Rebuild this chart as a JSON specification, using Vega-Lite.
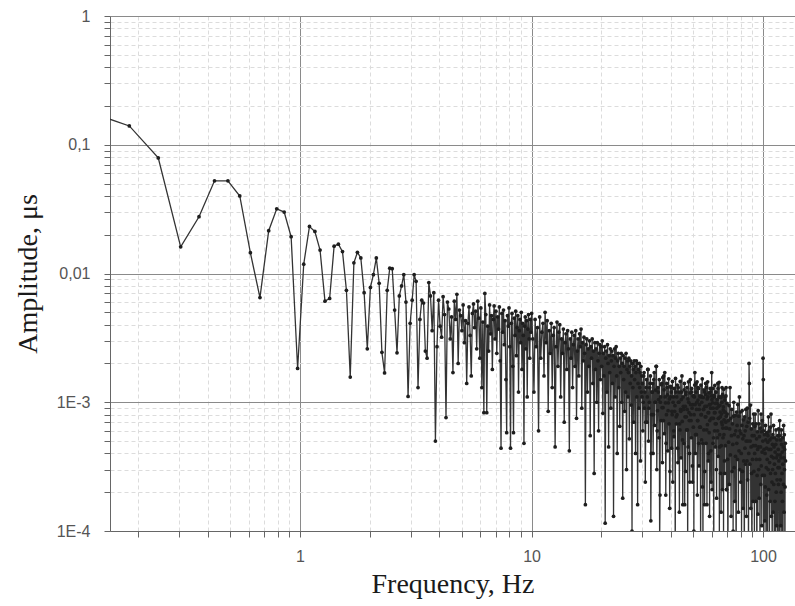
{
"$schema": "https://vega.github.io/schema/vega-lite/v6.json",
"width": 685, "height": 515,
"autosize": {"type": "none"},
"padding": {"left": 110, "top": 16, "right": 0, "bottom": 75},
"background": "white",
"config": {"view": {"stroke": null}},
"data": {"values": [
{"f":0.122,"a":0.18},{"f":0.183,"a":0.14},{"f":0.244,"a":0.079},{"f":0.305,"a":0.0161},{"f":0.366,"a":0.0276},{"f":0.427,"a":0.0525},{"f":0.488,"a":0.0525},{"f":0.549,"a":0.04},{"f":0.61,"a":0.0145},{"f":0.671,"a":0.0065},
{"f":0.732,"a":0.0215},{"f":0.793,"a":0.0318},{"f":0.854,"a":0.03},{"f":0.915,"a":0.0193},{"f":0.976,"a":0.00183},{"f":1.037,"a":0.0118},{"f":1.098,"a":0.0232},{"f":1.159,"a":0.0212},{"f":1.22,"a":0.0152},{"f":1.281,"a":0.0061},
{"f":1.342,"a":0.0064},{"f":1.403,"a":0.0163},{"f":1.464,"a":0.0169},{"f":1.525,"a":0.0148},{"f":1.586,"a":0.0074},{"f":1.647,"a":0.00157},{"f":1.708,"a":0.0121},{"f":1.769,"a":0.0146},{"f":1.83,"a":0.0132},{"f":1.891,"a":0.0071},
{"f":1.952,"a":0.0026},{"f":2.013,"a":0.0078},{"f":2.074,"a":0.0098},{"f":2.135,"a":0.0132},{"f":2.196,"a":0.0084},{"f":2.257,"a":0.00244},{"f":2.318,"a":0.00169},{"f":2.379,"a":0.0074},{"f":2.44,"a":0.011},{"f":2.501,"a":0.0109},
{"f":2.562,"a":0.0052},{"f":2.623,"a":0.00242},{"f":2.684,"a":0.0067},{"f":2.745,"a":0.008},{"f":2.806,"a":0.0098},{"f":2.867,"a":0.006},{"f":2.928,"a":0.00111},{"f":2.989,"a":0.0041},{"f":3.05,"a":0.0062},{"f":3.111,"a":0.0098},
{"f":3.172,"a":0.0087},{"f":3.233,"a":0.0013},{"f":3.294,"a":0.0044},{"f":3.355,"a":0.0062},{"f":3.416,"a":0.0059},{"f":3.477,"a":0.0025},{"f":3.538,"a":0.0022},{"f":3.599,"a":0.0085},{"f":3.66,"a":0.0067},{"f":3.721,"a":0.0036},
{"f":3.782,"a":0.0071},{"f":3.843,"a":0.0005},{"f":3.904,"a":0.0027},{"f":3.965,"a":0.0062},{"f":4.026,"a":0.0039},{"f":4.087,"a":0.0032},{"f":4.148,"a":0.0066},{"f":4.209,"a":0.0048},{"f":4.27,"a":0.00076},{"f":4.331,"a":0.006},
{"f":4.392,"a":0.0053},{"f":4.453,"a":0.0031},{"f":4.514,"a":0.0046},{"f":4.575,"a":0.0017},{"f":4.636,"a":0.0061},{"f":4.697,"a":0.0044},{"f":4.758,"a":0.0069},{"f":4.819,"a":0.002},{"f":4.88,"a":0.0052},{"f":4.941,"a":0.0047},
{"f":5.002,"a":0.0036},{"f":5.063,"a":0.0057},{"f":5.124,"a":0.0029},{"f":5.185,"a":0.0043},{"f":5.246,"a":0.0014},{"f":5.307,"a":0.0041},{"f":5.368,"a":0.0055},{"f":5.429,"a":0.0033},{"f":5.49,"a":0.0016},{"f":5.551,"a":0.0049},
{"f":5.612,"a":0.0058},{"f":5.673,"a":0.0038},{"f":5.734,"a":0.0051},{"f":5.795,"a":0.0026},{"f":5.856,"a":0.0061},{"f":5.917,"a":0.0045},{"f":5.978,"a":0.0022},{"f":6.039,"a":0.0054},{"f":6.1,"a":0.0013},{"f":6.161,"a":0.0042},
{"f":6.222,"a":0.00083},{"f":6.283,"a":0.007},{"f":6.344,"a":0.0048},{"f":6.405,"a":0.00083},{"f":6.466,"a":0.0039},{"f":6.527,"a":0.0025},{"f":6.588,"a":0.0057},{"f":6.649,"a":0.0034},{"f":6.71,"a":0.0047},{"f":6.771,"a":0.0018},
{"f":6.832,"a":0.0044},{"f":6.893,"a":0.0056},{"f":6.954,"a":0.0031},{"f":7.015,"a":0.0051},{"f":7.076,"a":0.0024},{"f":7.137,"a":0.0046},{"f":7.198,"a":0.0037},{"f":7.259,"a":0.0055},{"f":7.32,"a":0.0021},{"f":7.381,"a":0.00044},
{"f":7.442,"a":0.0049},{"f":7.503,"a":0.0035},{"f":7.564,"a":0.0052},{"f":7.625,"a":0.0028},{"f":7.686,"a":0.0043},{"f":7.747,"a":0.0015},{"f":7.808,"a":0.00058},{"f":7.869,"a":0.0047},{"f":7.93,"a":0.0039},{"f":7.991,"a":0.0054},
{"f":8.052,"a":0.0027},{"f":8.113,"a":0.00044},{"f":8.174,"a":0.0041},{"f":8.235,"a":0.0049},{"f":8.296,"a":0.0019},{"f":8.357,"a":0.00058},{"f":8.418,"a":0.0045},{"f":8.479,"a":0.0033},{"f":8.54,"a":0.0051},{"f":8.601,"a":0.0023},
{"f":8.662,"a":0.0038},{"f":8.723,"a":0.0047},{"f":8.784,"a":0.0012},{"f":8.845,"a":0.0036},{"f":8.906,"a":0.0044},{"f":8.967,"a":0.0029},{"f":9.028,"a":0.005},{"f":9.089,"a":0.0018},{"f":9.15,"a":0.0041},{"f":9.211,"a":0.0033},
{"f":9.272,"a":0.00048},{"f":9.333,"a":0.0039},{"f":9.394,"a":0.0046},{"f":9.455,"a":0.0026},{"f":9.516,"a":0.0043},{"f":9.577,"a":0.0011},{"f":9.638,"a":0.0037},{"f":9.699,"a":0.0048},{"f":9.76,"a":0.0031},{"f":9.821,"a":0.0022},
{"f":9.882,"a":0.0044},{"f":9.943,"a":0.0035},{"f":10.004,"a":0.0049},
{"f":10.12,"a":0.0031},{"f":10.24,"a":0.0012},{"f":10.36,"a":0.0044},{"f":10.48,"a":0.0027},{"f":10.6,"a":0.0038},{"f":10.72,"a":0.0006},{"f":10.84,"a":0.0046},{"f":10.96,"a":0.0022},{"f":11.08,"a":0.0035},{"f":11.2,"a":0.0041},
{"f":11.32,"a":0.0016},{"f":11.44,"a":0.005},{"f":11.56,"a":0.0029},{"f":11.68,"a":0.0043},{"f":11.8,"a":0.00085},{"f":11.92,"a":0.0036},{"f":12.04,"a":0.0024},{"f":12.16,"a":0.0041},{"f":12.28,"a":0.0013},{"f":12.4,"a":0.0033},
{"f":12.52,"a":0.0038},{"f":12.64,"a":0.00045},{"f":12.76,"a":0.0027},{"f":12.88,"a":0.0042},{"f":13.0,"a":0.0019},{"f":13.12,"a":0.0035},{"f":13.24,"a":0.004},{"f":13.36,"a":0.0011},{"f":13.48,"a":0.0031},{"f":13.6,"a":0.0024},
{"f":13.72,"a":0.0037},{"f":13.84,"a":0.0007},{"f":13.96,"a":0.0029},{"f":14.08,"a":0.0034},{"f":14.2,"a":0.0018},{"f":14.32,"a":0.0036},{"f":14.44,"a":0.0026},{"f":14.56,"a":0.00042},{"f":14.68,"a":0.0031},{"f":14.8,"a":0.0022},
{"f":14.92,"a":0.0035},{"f":15.04,"a":0.0013},{"f":15.16,"a":0.0028},{"f":15.28,"a":0.0033},{"f":15.4,"a":0.0019},{"f":15.52,"a":0.0036},{"f":15.64,"a":0.00075},{"f":15.76,"a":0.0025},{"f":15.88,"a":0.0031},{"f":16.0,"a":0.0016},
{"f":16.12,"a":0.0034},{"f":16.24,"a":0.0027},{"f":16.36,"a":0.0037},{"f":16.48,"a":0.0009},{"f":16.6,"a":0.0029},{"f":16.72,"a":0.0021},{"f":16.84,"a":0.0032},{"f":16.96,"a":0.0024},{"f":17.08,"a":0.00016},{"f":17.2,"a":0.0028},
{"f":17.32,"a":0.0031},{"f":17.44,"a":0.0012},{"f":17.56,"a":0.0026},{"f":17.68,"a":0.0019},{"f":17.8,"a":0.003},{"f":17.92,"a":0.00055},{"f":18.04,"a":0.0027},{"f":18.16,"a":0.0022},{"f":18.28,"a":0.0031},{"f":18.4,"a":0.0014},
{"f":18.52,"a":0.0025},{"f":18.64,"a":0.00028},{"f":18.76,"a":0.0029},{"f":18.88,"a":0.0018},{"f":19.0,"a":0.0026},{"f":19.12,"a":0.001},{"f":19.24,"a":0.0029},{"f":19.36,"a":0.0021},{"f":19.48,"a":0.0006},{"f":19.6,"a":0.0024},
{"f":19.72,"a":0.0028},{"f":19.84,"a":0.0015},{"f":19.96,"a":0.0027},{"f":20.08,"a":0.0019},{"f":20.2,"a":0.003},{"f":20.32,"a":0.00082},{"f":20.44,"a":0.0024},{"f":20.56,"a":0.0016},{"f":20.68,"a":0.0027},{"f":20.8,"a":0.000115},
{"f":20.92,"a":0.0022},{"f":21.04,"a":0.0025},{"f":21.16,"a":0.0012},{"f":21.28,"a":0.0028},{"f":21.4,"a":0.002},{"f":21.52,"a":0.00045},{"f":21.64,"a":0.0023},{"f":21.76,"a":0.0017},{"f":21.88,"a":0.0026},{"f":22.0,"a":0.0009},
{"f":22.12,"a":0.0021},{"f":22.24,"a":0.0025},{"f":22.36,"a":0.0014},{"f":22.48,"a":0.0023},{"f":22.6,"a":0.00013},{"f":22.72,"a":0.0019},{"f":22.84,"a":0.0026},{"f":22.96,"a":0.0011},{"f":23.08,"a":0.0022},{"f":23.2,"a":0.0027},
{"f":23.32,"a":0.0016},{"f":23.44,"a":0.0004},{"f":23.56,"a":0.0021},{"f":23.68,"a":0.0024},{"f":23.8,"a":0.0013},{"f":23.92,"a":0.0019},{"f":24.04,"a":0.00065},{"f":24.16,"a":0.0022},{"f":24.28,"a":0.0017},{"f":24.4,"a":0.0024},
{"f":24.52,"a":0.001},{"f":24.64,"a":0.002},{"f":24.76,"a":0.00018},{"f":24.88,"a":0.0023},{"f":25.0,"a":0.0015},{"f":25.12,"a":0.0019},{"f":25.24,"a":0.00085},{"f":25.36,"a":0.0022},{"f":25.48,"a":0.0012},{"f":25.6,"a":0.0024},
{"f":25.72,"a":0.0003},{"f":25.84,"a":0.0018},{"f":25.96,"a":0.0021},{"f":26.08,"a":0.0011},{"f":26.2,"a":0.0017},{"f":26.32,"a":0.0022},{"f":26.44,"a":0.00052},{"f":26.56,"a":0.0019},{"f":26.68,"a":0.0014},{"f":26.8,"a":0.0021},
{"f":26.92,"a":0.00095},{"f":27.04,"a":0.0016},{"f":27.16,"a":0.0001},{"f":27.28,"a":0.002},{"f":27.4,"a":0.0013},{"f":27.52,"a":0.0018},{"f":27.64,"a":0.0007},{"f":27.76,"a":0.0021},{"f":27.88,"a":0.0015},{"f":28.0,"a":0.0019},
{"f":28.12,"a":0.0004},{"f":28.24,"a":0.0017},{"f":28.36,"a":0.0021},{"f":28.48,"a":0.0011},{"f":28.6,"a":0.002},{"f":28.72,"a":0.00016},{"f":28.84,"a":0.0014},{"f":28.96,"a":0.0018},{"f":29.08,"a":0.0009},{"f":29.2,"a":0.002},
{"f":29.32,"a":0.0013},{"f":29.44,"a":0.0017},{"f":29.56,"a":0.00035},{"f":29.68,"a":0.0019},{"f":29.8,"a":0.0012},{"f":29.92,"a":0.0016},
{"f":30.0,"a":0.0011},{"f":30.25,"a":0.0006},{"f":30.5,"a":0.0016},{"f":30.75,"a":0.0009},{"f":31.0,"a":0.00024},{"f":31.25,"a":0.0013},{"f":31.5,"a":0.0007},{"f":31.75,"a":0.0018},{"f":32.0,"a":0.0005},{"f":32.25,"a":0.001},
{"f":32.5,"a":0.0014},{"f":32.75,"a":0.00012},{"f":33.0,"a":0.0008},{"f":33.25,"a":0.0012},{"f":33.5,"a":0.0004},{"f":33.75,"a":0.0015},{"f":34.0,"a":0.00066},{"f":34.25,"a":0.001},{"f":34.5,"a":0.0019},{"f":34.75,"a":0.0003},
{"f":35.0,"a":0.00086},{"f":35.25,"a":0.0012},{"f":35.5,"a":0.00053},{"f":35.75,"a":0.000076},{"f":36.0,"a":0.001},{"f":36.25,"a":0.00072},{"f":36.5,"a":0.0014},{"f":36.75,"a":0.00034},{"f":37.0,"a":0.00091},{"f":37.25,"a":0.0016},
{"f":37.5,"a":0.00057},{"f":37.75,"a":0.0011},{"f":38.0,"a":0.00019},{"f":38.25,"a":0.0008},{"f":38.5,"a":0.0013},{"f":38.75,"a":0.00042},{"f":39.0,"a":0.00099},{"f":39.25,"a":0.00068},{"f":39.5,"a":0.00015},{"f":39.75,"a":0.0011},
{"f":40.0,"a":0.0013},{"f":40.25,"a":0.00044},{"f":40.5,"a":0.0008},{"f":40.75,"a":0.00024},{"f":41.0,"a":0.0011},{"f":41.25,"a":0.00054},{"f":41.5,"a":0.00085},{"f":41.75,"a":0.000051},{"f":42.0,"a":0.0012},{"f":42.25,"a":0.00068},
{"f":42.5,"a":0.0008},{"f":42.75,"a":0.00044},{"f":43.0,"a":0.0013},{"f":43.25,"a":0.001},{"f":43.5,"a":0.00014},{"f":43.75,"a":0.00061},{"f":44.0,"a":0.00088},{"f":44.25,"a":0.00037},{"f":44.5,"a":0.0012},{"f":44.75,"a":0.00071},
{"f":45.0,"a":0.00016},{"f":45.25,"a":0.00093},{"f":45.5,"a":0.00048},{"f":45.75,"a":0.0014},{"f":46.0,"a":0.00077},{"f":46.25,"a":0.00029},{"f":46.5,"a":0.0012},{"f":46.75,"a":0.00061},{"f":47.0,"a":0.00088},{"f":47.25,"a":0.000064},
{"f":47.5,"a":0.00045},{"f":47.75,"a":0.001},{"f":48.0,"a":0.00072},{"f":48.25,"a":0.00024},{"f":48.5,"a":0.0015},{"f":48.75,"a":0.0008},{"f":49.0,"a":0.00053},{"f":49.25,"a":0.0012},{"f":49.5,"a":0.00032},{"f":49.75,"a":0.00096},
{"f":50.0,"a":0.00064},{"f":50.25,"a":0.0001},{"f":50.5,"a":0.0011},{"f":50.75,"a":0.0017},{"f":51.0,"a":0.0004},{"f":51.25,"a":0.0014},{"f":51.5,"a":0.00056},{"f":51.75,"a":0.001},{"f":52.0,"a":0.00019},{"f":52.25,"a":0.00072},
{"f":52.5,"a":0.0013},{"f":52.75,"a":0.00048},{"f":53.0,"a":0.00088},{"f":53.25,"a":0.00064},{"f":53.5,"a":0.0011},{"f":53.75,"a":0.000048},{"f":54.0,"a":0.0008},{"f":54.25,"a":0.00051},{"f":54.5,"a":0.0011},{"f":54.75,"a":0.00022},
{"f":55.0,"a":0.000064},{"f":55.25,"a":0.00088},{"f":55.5,"a":0.00061},{"f":55.75,"a":0.0012},{"f":56.0,"a":0.00029},{"f":56.25,"a":0.00077},{"f":56.5,"a":0.0014},{"f":56.75,"a":0.00048},{"f":57.0,"a":0.00093},{"f":57.25,"a":0.00016},
{"f":57.5,"a":0.00067},{"f":57.75,"a":0.0011},{"f":58.0,"a":0.00035},{"f":58.25,"a":0.00083},{"f":58.5,"a":0.00058},{"f":58.75,"a":0.00013},{"f":59.0,"a":0.00096},{"f":59.25,"a":0.0012},{"f":59.5,"a":0.00042},{"f":59.75,"a":0.00075},
{"f":60.0,"a":0.0017},{"f":60.25,"a":0.00021},{"f":60.5,"a":0.00099},{"f":60.75,"a":0.00048},{"f":61.0,"a":0.00075},{"f":61.25,"a":0.000045},{"f":61.5,"a":0.0011},{"f":61.75,"a":0.0006},{"f":62.0,"a":0.00083},{"f":62.25,"a":0.00045},
{"f":62.5,"a":0.0012},{"f":62.75,"a":0.00068},{"f":63.0,"a":0.00018},{"f":63.25,"a":0.00098},{"f":63.5,"a":0.00053},{"f":63.75,"a":0.0014},{"f":64.0,"a":0.00038},{"f":64.25,"a":0.00075},{"f":64.5,"a":0.0011},{"f":64.75,"a":0.00009},
{"f":65.0,"a":0.00056},{"f":65.25,"a":0.00084},{"f":65.5,"a":0.00028},{"f":65.75,"a":0.0011},{"f":66.0,"a":0.00046},{"f":66.25,"a":0.0007},{"f":66.5,"a":0.0013},{"f":66.75,"a":0.00021},{"f":67.0,"a":0.00063},{"f":67.25,"a":0.00087},
{"f":67.5,"a":0.000084},{"f":67.75,"a":0.00056},{"f":68.0,"a":0.00084},{"f":68.25,"a":0.00028},{"f":68.5,"a":0.0011},{"f":68.75,"a":0.00046},{"f":69.0,"a":0.0007},{"f":69.25,"a":0.0013},{"f":69.5,"a":0.00021},{"f":69.75,"a":0.00063},
{"f":70.0,"a":0.00081},{"f":70.25,"a":0.00036},{"f":70.5,"a":0.000052},{"f":70.75,"a":0.00072},{"f":71.0,"a":0.00049},{"f":71.25,"a":0.00094},{"f":71.5,"a":0.00023},{"f":71.75,"a":0.00062},{"f":72.0,"a":0.0013},{"f":72.25,"a":0.00039},
{"f":72.5,"a":0.00075},{"f":72.75,"a":0.00013},{"f":73.0,"a":0.00055},{"f":73.25,"a":0.00088},{"f":73.5,"a":0.00029},{"f":73.75,"a":0.00068},{"f":74.0,"a":0.00047},{"f":74.25,"a":0.0001},{"f":74.5,"a":0.00078},{"f":74.75,"a":0.001},
{"f":75.0,"a":0.00031},{"f":75.25,"a":0.00056},{"f":75.5,"a":0.00017},{"f":75.75,"a":0.00079},{"f":76.0,"a":0.00038},{"f":76.25,"a":0.0006},{"f":76.5,"a":0.000036},{"f":76.75,"a":0.00084},{"f":77.0,"a":0.00048},{"f":77.25,"a":0.00066},
{"f":77.5,"a":0.00036},{"f":77.75,"a":0.00096},{"f":78.0,"a":0.00054},{"f":78.25,"a":0.00014},{"f":78.5,"a":0.00078},{"f":78.75,"a":0.00042},{"f":79.0,"a":0.0011},{"f":79.25,"a":0.0003},{"f":79.5,"a":0.0006},{"f":79.75,"a":0.00084},
{"f":80.0,"a":0.00024},{"f":80.25,"a":0.00057},{"f":80.5,"a":0.0004},{"f":80.75,"a":0.000088},{"f":81.0,"a":0.00066},{"f":81.25,"a":0.00086},{"f":81.5,"a":0.00029},{"f":81.75,"a":0.00052},{"f":82.0,"a":0.00015},{"f":82.25,"a":0.00073},
{"f":82.5,"a":0.00035},{"f":82.75,"a":0.00055},{"f":83.0,"a":0.000033},{"f":83.25,"a":0.00077},{"f":83.5,"a":0.00044},{"f":83.75,"a":0.0006},{"f":84.0,"a":0.00033},{"f":84.25,"a":0.00088},{"f":84.5,"a":0.0005},{"f":84.75,"a":0.00013},
{"f":85.0,"a":0.00065},{"f":85.25,"a":0.00035},{"f":85.5,"a":0.0009},{"f":85.75,"a":0.00025},{"f":86.0,"a":0.0005},{"f":86.25,"a":0.0007},{"f":86.5,"a":0.00006},{"f":86.75,"a":0.0004},{"f":87.0,"a":0.002},{"f":87.25,"a":0.0014},
{"f":87.5,"a":0.00075},{"f":87.75,"a":0.00033},{"f":88.0,"a":0.0005},{"f":88.25,"a":0.00095},{"f":88.5,"a":0.00015},{"f":88.75,"a":0.00045},{"f":89.0,"a":0.00062},{"f":89.25,"a":0.00028},{"f":89.5,"a":0.00004},{"f":89.75,"a":0.00055},
{"f":90.0,"a":0.00036},{"f":90.25,"a":0.00068},{"f":90.5,"a":0.00017},{"f":90.75,"a":0.00046},{"f":91.0,"a":0.00081},{"f":91.25,"a":0.00029},{"f":91.5,"a":0.00055},{"f":91.75,"a":0.000095},{"f":92.0,"a":0.0004},{"f":92.25,"a":0.00065},
{"f":92.5,"a":0.00081},{"f":92.75,"a":0.00046},{"f":93.0,"a":0.00017},{"f":93.25,"a":0.00068},{"f":93.5,"a":0.00036},{"f":93.75,"a":0.00052},{"f":94.0,"a":0.000038},{"f":94.25,"a":0.00027},{"f":94.5,"a":0.00059},{"f":94.75,"a":0.00043},
{"f":95.0,"a":0.000135},{"f":95.25,"a":0.00086},{"f":95.5,"a":0.00045},{"f":95.75,"a":0.0003},{"f":96.0,"a":0.00068},{"f":96.25,"a":0.00018},{"f":96.5,"a":0.00054},{"f":96.75,"a":0.00036},{"f":97.0,"a":0.000054},{"f":97.25,"a":0.00063},
{"f":97.5,"a":0.00045},{"f":97.75,"a":0.00023},{"f":98.0,"a":0.00081},{"f":98.25,"a":0.00032},{"f":98.5,"a":0.00059},{"f":98.75,"a":0.00011},{"f":99.0,"a":0.00041},{"f":99.25,"a":0.00072},{"f":99.5,"a":0.00027},{"f":99.75,"a":0.0005},
{"f":100.0,"a":0.0022},{"f":100.25,"a":0.0015},{"f":100.5,"a":0.0006},{"f":100.75,"a":0.000026},{"f":101.0,"a":0.00043},{"f":101.25,"a":0.00027},{"f":101.5,"a":0.00056},{"f":101.75,"a":0.00012},{"f":102.0,"a":0.0004},{"f":102.25,"a":0.00022},
{"f":102.5,"a":0.00066},{"f":102.75,"a":0.00051},{"f":103.0,"a":0.000068},{"f":103.25,"a":0.00031},{"f":103.5,"a":0.00044},{"f":103.75,"a":0.00019},{"f":104.0,"a":0.00058},{"f":104.25,"a":0.00036},{"f":104.5,"a":0.000085},{"f":104.75,"a":0.00049},
{"f":105.0,"a":0.00055},{"f":105.25,"a":0.0003},{"f":105.5,"a":0.00077},{"f":105.75,"a":0.00021},{"f":106.0,"a":0.00043},{"f":106.25,"a":0.0006},{"f":106.5,"a":0.000051},{"f":106.75,"a":0.00034},{"f":107.0,"a":0.00051},{"f":107.25,"a":0.00017},
{"f":107.5,"a":0.00064},{"f":107.75,"a":0.00028},{"f":108.0,"a":0.00043},{"f":108.25,"a":0.00081},{"f":108.5,"a":0.00013},{"f":108.75,"a":0.00038},{"f":109.0,"a":0.00053},{"f":109.25,"a":0.00024},{"f":109.5,"a":0.000034},{"f":109.75,"a":0.00047},
{"f":110.0,"a":0.0003},{"f":110.25,"a":0.00056},{"f":110.5,"a":0.00014},{"f":110.75,"a":0.00037},{"f":111.0,"a":0.00066},{"f":111.25,"a":0.00023},{"f":111.5,"a":0.00045},{"f":111.75,"a":0.000078},{"f":112.0,"a":0.00033},{"f":112.25,"a":0.00053},
{"f":112.5,"a":0.00017},{"f":112.75,"a":0.00041},{"f":113.0,"a":0.00028},{"f":113.25,"a":0.000062},{"f":113.5,"a":0.00047},{"f":113.75,"a":0.00061},{"f":114.0,"a":0.0002},{"f":114.25,"a":0.00037},{"f":114.5,"a":0.00011},{"f":114.75,"a":0.00051},
{"f":115.0,"a":0.00025},{"f":115.25,"a":0.00039},{"f":115.5,"a":0.000023},{"f":115.75,"a":0.00055},{"f":116.0,"a":0.00031},{"f":116.25,"a":0.00043},{"f":116.5,"a":0.00023},{"f":116.75,"a":0.00062},{"f":117.0,"a":0.00035},{"f":117.25,"a":0.000094},
{"f":117.5,"a":0.00031},{"f":117.75,"a":0.00055},{"f":118.0,"a":0.00072},{"f":118.25,"a":0.000023},{"f":118.5,"a":0.00039},{"f":118.75,"a":0.00025},{"f":119.0,"a":0.00051},{"f":119.25,"a":0.00011},{"f":119.5,"a":0.00037},{"f":119.75,"a":0.0002},
{"f":120.0,"a":0.00061},{"f":120.25,"a":0.00047},{"f":120.5,"a":0.000062},{"f":120.75,"a":0.00028},{"f":121.0,"a":0.00041},{"f":121.25,"a":0.00017},{"f":121.5,"a":0.00053},{"f":121.75,"a":0.00033},{"f":122.0,"a":0.000078},{"f":122.25,"a":0.00045},
{"f":122.5,"a":0.00023},{"f":122.75,"a":0.00066},{"f":123.0,"a":0.00037},{"f":123.25,"a":0.00014},{"f":123.5,"a":0.00056},{"f":123.75,"a":0.0003},{"f":124.0,"a":0.00043},{"f":124.25,"a":0.000031},{"f":124.5,"a":0.00022},{"f":124.75,"a":0.00048},
{"f":125.0,"a":0.00035},
{"f":30.125,"a":0.0014},{"f":30.375,"a":0.001},{"f":30.625,"a":0.0017},{"f":30.875,"a":0.0012},{"f":31.125,"a":0.0007},{"f":31.375,"a":0.0015},{"f":31.625,"a":0.0011},{"f":31.875,"a":0.0018},{"f":32.125,"a":0.0009},{"f":32.375,"a":0.0013},
{"f":32.625,"a":0.0016},{"f":32.875,"a":0.0004},{"f":33.125,"a":0.0012},{"f":33.375,"a":0.0014},{"f":33.625,"a":0.0008},{"f":33.875,"a":0.0017},{"f":34.125,"a":0.001},{"f":34.375,"a":0.00124},{"f":34.625,"a":0.0019},{"f":34.875,"a":0.0006},
{"f":35.125,"a":0.0013},{"f":35.375,"a":0.00105},{"f":35.625,"a":0.0015},{"f":35.875,"a":0.00019},{"f":36.125,"a":0.0011},{"f":36.375,"a":0.00137},{"f":36.625,"a":0.00091},{"f":36.875,"a":0.00156},{"f":37.125,"a":0.00072},{"f":37.375,"a":0.00125},
{"f":37.625,"a":0.0017},{"f":37.875,"a":0.00099},{"f":38.125,"a":0.00048},{"f":38.375,"a":0.0014},{"f":38.625,"a":0.00114},{"f":38.875,"a":0.00086},{"f":39.125,"a":0.00152},{"f":39.375,"a":0.00106},{"f":39.625,"a":0.00029},{"f":39.875,"a":0.00133},
{"f":40.125,"a":0.0012},{"f":40.375,"a":0.00085},{"f":40.625,"a":0.00145},{"f":40.875,"a":0.001},{"f":41.125,"a":0.0006},{"f":41.375,"a":0.00128},{"f":41.625,"a":0.00094},{"f":41.875,"a":0.00153},{"f":42.125,"a":0.00077},{"f":42.375,"a":0.0011},
{"f":42.625,"a":0.00136},{"f":42.875,"a":0.00034},{"f":43.125,"a":0.001},{"f":43.375,"a":0.0012},{"f":43.625,"a":0.00068},{"f":43.875,"a":0.00145},{"f":44.125,"a":0.00085},{"f":44.375,"a":0.00105},{"f":44.625,"a":0.0016},{"f":44.875,"a":0.00051},
{"f":45.125,"a":0.0011},{"f":45.375,"a":0.00088},{"f":45.625,"a":0.00125},{"f":45.875,"a":0.00016},{"f":46.125,"a":0.00093},{"f":46.375,"a":0.00115},{"f":46.625,"a":0.00077},{"f":46.875,"a":0.0013},{"f":47.125,"a":0.00061},{"f":47.375,"a":0.00106},
{"f":47.625,"a":0.00144},{"f":47.875,"a":0.00083},{"f":48.125,"a":0.0004},{"f":48.375,"a":0.00118},{"f":48.625,"a":0.00096},{"f":48.875,"a":0.00072},{"f":49.125,"a":0.00128},{"f":49.375,"a":0.0009},{"f":49.625,"a":0.00024},{"f":49.875,"a":0.00112},
{"f":50.125,"a":0.00112},{"f":50.375,"a":0.0008},{"f":50.625,"a":0.00136},{"f":50.875,"a":0.00096},{"f":51.125,"a":0.00056},{"f":51.375,"a":0.0012},{"f":51.625,"a":0.00088},{"f":51.875,"a":0.00144},{"f":52.125,"a":0.00072},{"f":52.375,"a":0.00104},
{"f":52.625,"a":0.00128},{"f":52.875,"a":0.00032},{"f":53.125,"a":0.00096},{"f":53.375,"a":0.00112},{"f":53.625,"a":0.00064},{"f":53.875,"a":0.00136},{"f":54.125,"a":0.0008},{"f":54.375,"a":0.001},{"f":54.625,"a":0.00152},{"f":54.875,"a":0.00048},
{"f":55.125,"a":0.00109},{"f":55.375,"a":0.00088},{"f":55.625,"a":0.00125},{"f":55.875,"a":0.00016},{"f":56.125,"a":0.00093},{"f":56.375,"a":0.00115},{"f":56.625,"a":0.00077},{"f":56.875,"a":0.00131},{"f":57.125,"a":0.00061},{"f":57.375,"a":0.00106},
{"f":57.625,"a":0.00144},{"f":57.875,"a":0.00083},{"f":58.125,"a":0.0004},{"f":58.375,"a":0.00118},{"f":58.625,"a":0.00096},{"f":58.875,"a":0.00072},{"f":59.125,"a":0.00128},{"f":59.375,"a":0.0009},{"f":59.625,"a":0.00024},{"f":59.875,"a":0.00112},
{"f":60.125,"a":0.00105},{"f":60.375,"a":0.00075},{"f":60.625,"a":0.00128},{"f":60.875,"a":0.0009},{"f":61.125,"a":0.00053},{"f":61.375,"a":0.00113},{"f":61.625,"a":0.00083},{"f":61.875,"a":0.00135},{"f":62.125,"a":0.00068},{"f":62.375,"a":0.00098},
{"f":62.625,"a":0.0012},{"f":62.875,"a":0.0003},{"f":63.125,"a":0.0009},{"f":63.375,"a":0.00105},{"f":63.625,"a":0.0006},{"f":63.875,"a":0.00128},{"f":64.125,"a":0.00075},{"f":64.375,"a":0.00093},{"f":64.625,"a":0.00143},{"f":64.875,"a":0.00045},
{"f":65.125,"a":0.00095},{"f":65.375,"a":0.00077},{"f":65.625,"a":0.00109},{"f":65.875,"a":0.00014},{"f":66.125,"a":0.00081},{"f":66.375,"a":0.001},{"f":66.625,"a":0.00067},{"f":66.875,"a":0.00115},{"f":67.125,"a":0.00053},{"f":67.375,"a":0.00092},
{"f":67.625,"a":0.00126},{"f":67.875,"a":0.00073},{"f":68.125,"a":0.00035},{"f":68.375,"a":0.00104},{"f":68.625,"a":0.00084},{"f":68.875,"a":0.00063},{"f":69.125,"a":0.00112},{"f":69.375,"a":0.00078},{"f":69.625,"a":0.00021},{"f":69.875,"a":0.00098}
]},
"encoding": {
  "x": {"field": "f", "type": "quantitative",
    "scale": {"type": "log", "domain": [0.151, 137.4], "nice": false, "zero": false},
    "axis": {
      "title": "Frequency, Hz", "titleFont": "Liberation Serif", "titleFontSize": 28, "titleFontWeight": "normal", "titleColor": "#1a1a1a", "titlePadding": 6,
      "values": [0.2,0.3,0.4,0.5,0.6,0.7,0.8,0.9,1,2,3,4,5,6,7,8,9,10,20,30,40,50,60,70,80,90,100],
      "labelExpr": "datum.value==1?'1':datum.value==10?'10':datum.value==100?'100':''",
      "labelFont": "Liberation Sans", "labelFontSize": 16, "labelColor": "#555", "labelPadding": 11,
      "labelOverlap": false, "labelFlush": false, "labelBound": false,
      "tickSize": 6, "tickColor": "#666", "domainColor": "#666",
      "grid": true,
      "gridColor": {"condition": {"test": "datum.value==1||datum.value==10||datum.value==100", "value": "#8a8a8a"}, "value": "#dcdcdc"},
      "gridDash": {"condition": {"test": "datum.value==1||datum.value==10||datum.value==100", "value": []}, "value": [4, 3]}
    }},
  "y": {"field": "a", "type": "quantitative",
    "scale": {"type": "log", "domain": [0.0001, 1], "nice": false, "zero": false},
    "axis": {
      "title": "Amplitude, μs", "titleFont": "Liberation Serif", "titleFontSize": 28, "titleFontWeight": "normal", "titleColor": "#1a1a1a", "titlePadding": 14,
      "values": [0.0001,0.0002,0.0003,0.0004,0.0005,0.0006,0.0007,0.0008,0.0009,0.001,0.002,0.003,0.004,0.005,0.006,0.007,0.008,0.009,0.01,0.02,0.03,0.04,0.05,0.06,0.07,0.08,0.09,0.1,0.2,0.3,0.4,0.5,0.6,0.7,0.8,0.9,1],
      "labelExpr": "datum.value==1?'1':datum.value==0.1?'0,1':datum.value==0.01?'0,01':datum.value==0.001?'1E-3':datum.value==0.0001?'1E-4':''",
      "labelFont": "Liberation Sans", "labelFontSize": 16, "labelColor": "#555", "labelPadding": 14,
      "labelOverlap": false, "labelFlush": false, "labelBound": false,
      "tickSize": 6, "tickColor": "#666", "domainColor": "#666",
      "grid": true,
      "gridColor": {"condition": {"test": "datum.value==1||datum.value==0.1||datum.value==0.01||datum.value==0.001||datum.value==0.0001", "value": "#8a8a8a"}, "value": "#dcdcdc"},
      "gridDash": {"condition": {"test": "datum.value==1||datum.value==0.1||datum.value==0.01||datum.value==0.001||datum.value==0.0001", "value": []}, "value": [4, 3]}
    }}
},
"layer": [
  {"mark": {"type": "line", "clip": true, "color": "#333", "strokeWidth": 1.3}},
  {"mark": {"type": "point", "filled": true, "clip": true, "color": "#1e1e1e", "size": 14, "opacity": 1}}
]
}
